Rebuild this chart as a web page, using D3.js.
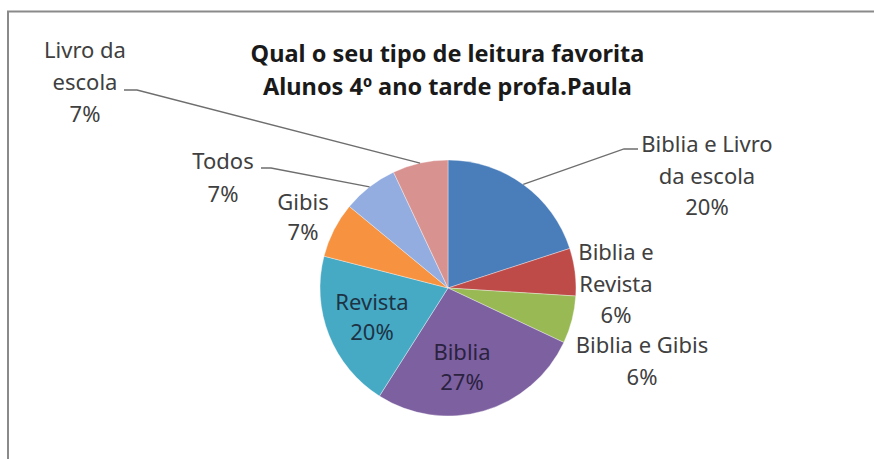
<!DOCTYPE html>
<html>
<head>
<meta charset="utf-8">
<script src="https://cdn.jsdelivr.net/npm/d3@7"></script>
<style>
  html, body { margin: 0; padding: 0; background: #ffffff; }
  svg { display: block; }
</style>
</head>
<body>
<svg id="chart" width="874" height="459"></svg>
<script>
// Favourite reading type — 4th grade afternoon class
const titleLines = ["Qual o seu tipo de leitura favorita", "Alunos 4º ano tarde profa.Paula"];
const categories = ["Biblia e Livro da escola", "Biblia e Revista", "Biblia e Gibis", "Biblia",
                    "Revista", "Gibis", "Todos", "Livro da escola"];
const shares = [20, 6, 6, 27, 20, 7, 7, 7];
// how each category name wraps in its label
const labelNames = [["Biblia e Livro", "da escola"], ["Biblia e", "Revista"], ["Biblia e Gibis"], ["Biblia"],
                    ["Revista"], ["Gibis"], ["Todos"], ["Livro da", "escola"]];
const sliceColors = ["#4a7ebb", "#be4b48", "#98b954", "#7d60a0", "#46aac5", "#f69240", "#93ade0", "#d89391"];

// label layout: centre x, first baseline, line step, text colour, leader start (or null)
const labelLayout = [
  { x: 707, y: 152, step: 31.5, fill: "#404040", leader: [[638, 149], [624, 149]] },
  { x: 616, y: 260, step: 31.5, fill: "#404040", leader: null },
  { x: 642, y: 353, step: 32,   fill: "#404040", leader: null },
  { x: 462, y: 360, step: 30,   fill: "#2b2240", leader: null },
  { x: 372, y: 310, step: 30,   fill: "#1d3344", leader: null },
  { x: 303, y: 210, step: 30,   fill: "#404040", leader: null },
  { x: 223, y: 169, step: 33,   fill: "#404040", leader: [[261, 168], [271, 168]] },
  { x: 85,  y: 58,  step: 32,   fill: "#404040", leader: [[124, 90], [137, 90]] }
];

const svg = d3.select("#chart");
const font = "'Noto Sans', 'Open Sans', sans-serif";

// chart frame
svg.append("path")
  .attr("d", "M8,459 L8,11.5 L874,11.5")
  .attr("fill", "none")
  .attr("stroke", "#8a8a8a")
  .attr("stroke-width", 2);

// title
svg.append("g").selectAll("text")
  .data(titleLines)
  .join("text")
  .attr("x", 447.5)
  .attr("y", (d, i) => 62 + i * 33)
  .attr("text-anchor", "middle")
  .attr("font-family", font)
  .attr("font-weight", "bold")
  .attr("font-size", 23.5)
  .attr("fill", "#1a1a1a")
  .text(d => d);

// pie
const cx = 448, cy = 288, radius = 128;
const pie = d3.pie().sort(null).value(d => d).startAngle(0).endAngle(2 * Math.PI);
const arcs = pie(shares);
const arc = d3.arc().innerRadius(0).outerRadius(radius);
const edgeArc = d3.arc().innerRadius(radius).outerRadius(radius);

const g = svg.append("g").attr("transform", `translate(${cx},${cy})`);
g.selectAll("path")
  .data(arcs)
  .join("path")
  .attr("d", arc)
  .attr("fill", (d, i) => sliceColors[i])
  .attr("stroke", "rgba(255,255,255,0.45)")
  .attr("stroke-width", 0.8);

// leader lines from label to slice edge
const leaderGroup = svg.append("g");
arcs.forEach((d, i) => {
  const lay = labelLayout[i];
  if (!lay.leader) return;
  const mid = (d.startAngle + d.endAngle) / 2;
  const end = [cx + radius * Math.sin(mid), cy - radius * Math.cos(mid)];
  leaderGroup.append("path")
    .attr("d", d3.line()([...lay.leader, end]))
    .attr("fill", "none")
    .attr("stroke", "#6e6e6e")
    .attr("stroke-width", 1.3);
});

// data labels: category name lines + percentage
const labels = svg.append("g");
arcs.forEach((d, i) => {
  const lay = labelLayout[i];
  const lines = [...labelNames[i], d3.format(".0f")(shares[i]) + "%"];
  labels.append("g").selectAll("text")
    .data(lines)
    .join("text")
    .attr("x", lay.x)
    .attr("y", (t, k) => lay.y + k * lay.step)
    .attr("text-anchor", "middle")
    .attr("font-family", font)
    .attr("font-size", 22)
    .attr("fill", lay.fill)
    .text(t => t);
});
</script>
</body>
</html>
